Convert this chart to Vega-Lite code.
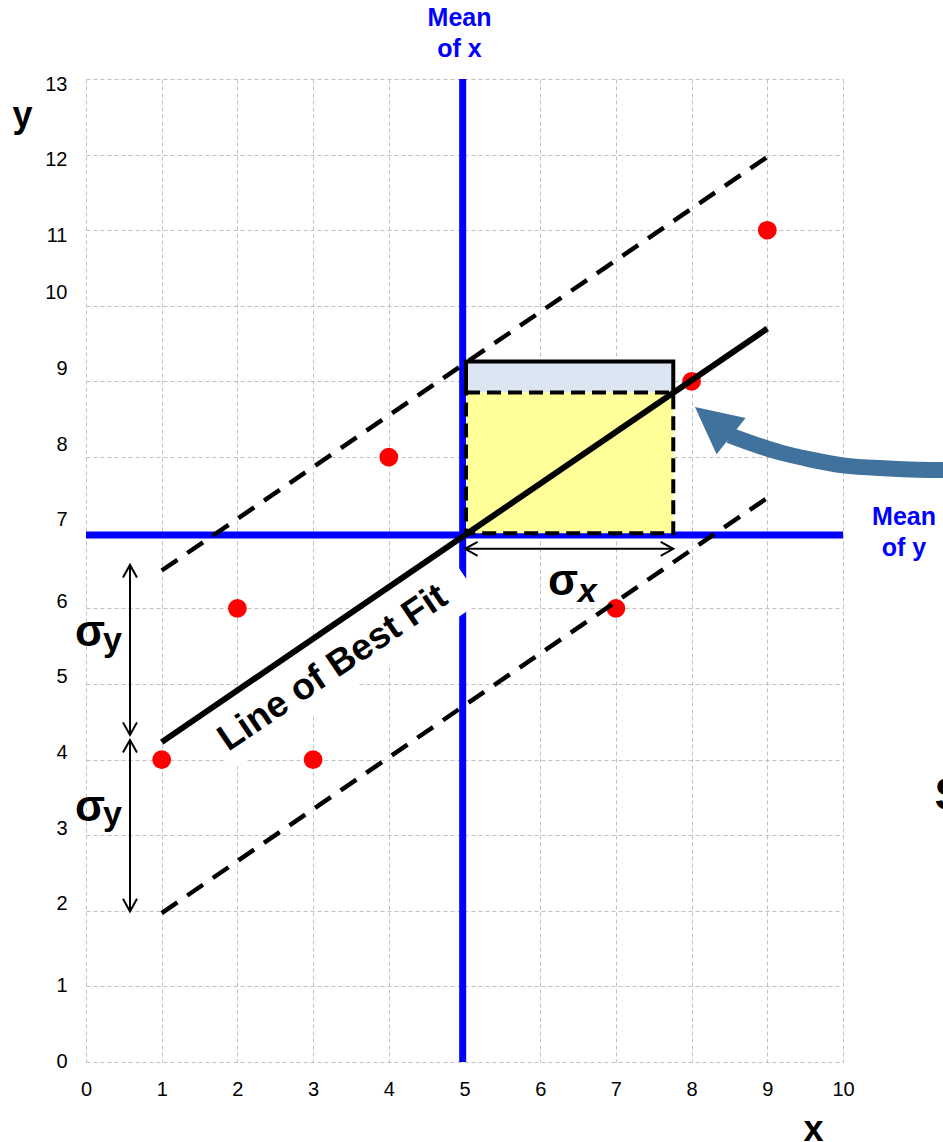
{
  "$schema": "https://vega.github.io/schema/vega-lite/v6.json",
  "width": 757,
  "height": 983,
  "autosize": {"type": "none"},
  "padding": {"left": 86, "top": 79, "right": 100, "bottom": 80},
  "background": "white",
  "config": {"view": {"stroke": null}, "font": "Liberation Sans"},
  "datasets": {
    "means": [
      {"x": 4.976, "x2": 4.976, "y": 0, "y2": 13},
      {"x": 0, "x2": 10, "y": 6.97, "y2": 6.97}
    ],
    "textbox": [{"x": 3.36, "y": 5.31}],
    "yellowRect": [{"x": 5.02, "x2": 7.758, "y": 6.993, "y2": 8.853}],
    "blueRect": [{"x": 5.02, "x2": 7.758, "y": 8.853, "y2": 9.263}],
    "outline": [
      {"o": 1, "x": 5.02, "y": 8.853},
      {"o": 2, "x": 5.02, "y": 9.263},
      {"o": 3, "x": 7.758, "y": 9.263},
      {"o": 4, "x": 7.758, "y": 8.853}
    ],
    "points": [
      {"x": 1, "y": 4},
      {"x": 2, "y": 6},
      {"x": 3, "y": 4},
      {"x": 4, "y": 8},
      {"x": 7, "y": 6},
      {"x": 8, "y": 9},
      {"x": 9, "y": 11}
    ],
    "bands": [
      {"line": "upper", "x": 1, "y": 6.5},
      {"line": "upper", "x": 9, "y": 11.97},
      {"line": "lower", "x": 1, "y": 1.97},
      {"line": "lower", "x": 9, "y": 7.46}
    ],
    "fit": [
      {"x": 1, "y": 4.23},
      {"x": 9, "y": 9.7}
    ],
    "sigmaArrows": [
      {"x": 0.581, "x2": 0.581, "y": 6.574, "y2": 4.325},
      {"x": 0.581, "x2": 0.581, "y": 4.259, "y2": 1.991},
      {"x": 5.007, "x2": 7.758, "y": 6.786, "y2": 6.786}
    ],
    "heads": [
      {"x": 0.581, "y": 6.574, "end": "up"},
      {"x": 0.581, "y": 4.325, "end": "down"},
      {"x": 0.581, "y": 4.259, "end": "up"},
      {"x": 0.581, "y": 1.991, "end": "down"},
      {"x": 5.007, "y": 6.786, "end": "left"},
      {"x": 7.758, "y": 6.786, "end": "right"}
    ],
    "curve": [
      {"x": 8.5, "y": 8.29},
      {"x": 9.168, "y": 8.062},
      {"x": 9.564, "y": 7.97},
      {"x": 10.0, "y": 7.89},
      {"x": 10.6, "y": 7.85},
      {"x": 11.32, "y": 7.83},
      {"x": 11.7, "y": 7.83}
    ],
    "curveHead": [{"x": 8.283, "y": 8.47}],
    "blueLabels": [
      {"text": "Mean", "x": 4.934, "y": 13.81},
      {"text": "of x", "x": 4.934, "y": 13.4},
      {"text": "Mean", "x": 10.806, "y": 7.209},
      {"text": "of y", "x": 10.806, "y": 6.799}
    ],
    "sigmas": [
      {"text": "σ", "x": 6.301, "y": 6.352},
      {"text": "σ", "x": 0.053, "y": 5.668},
      {"text": "σ", "x": 0.053, "y": 3.353}
    ],
    "subY": [
      {"text": "y", "x": 0.35, "y": 5.57},
      {"text": "y", "x": 0.35, "y": 3.27}
    ],
    "subX": [{"text": "x", "x": 6.62, "y": 6.217}],
    "fitLabel": [{"text": "Line of Best Fit", "x": 3.26, "y": 5.21}],
    "edgeLabel": [{"text": "S", "x": 11.208, "y": 3.522}]
  },
  "encoding": {
    "x": {
      "field": "x",
      "type": "quantitative",
      "scale": {"domain": [0, 10], "nice": false, "zero": false},
      "axis": {
        "title": "x",
        "values": [0, 1, 2, 3, 4, 5, 6, 7, 8, 9, 10],
        "grid": true,
        "gridColor": "#c0c0c0",
        "gridDash": [4, 3],
        "gridWidth": 1,
        "domain": false,
        "ticks": false,
        "labelFlush": false,
        "labelOverlap": false,
        "labelFontSize": 20,
        "labelColor": "#000000",
        "labelPadding": 17,
        "titleFontSize": 36,
        "titleFontWeight": "bold",
        "titleColor": "#000000",
        "titleAngle": 0,
        "titleAlign": "center",
        "titleBaseline": "alphabetic",
        "titleX": 727,
        "titleY": 78
      }
    },
    "y": {
      "field": "y",
      "type": "quantitative",
      "scale": {"domain": [0, 13], "nice": false, "zero": false},
      "axis": {
        "title": "y",
        "values": [0, 1, 2, 3, 4, 5, 6, 7, 8, 9, 10, 11, 12, 13],
        "grid": true,
        "gridColor": "#c0c0c0",
        "gridDash": [4, 3],
        "gridWidth": 1,
        "domain": false,
        "ticks": false,
        "labelFlush": false,
        "labelOverlap": false,
        "labelFontSize": 20,
        "labelColor": "#000000",
        "labelPadding": 19,
        "labelOffset": {
          "condition": [
            {"test": "datum.value >= 11", "value": 5},
            {"test": "datum.value >= 7", "value": -13},
            {"test": "datum.value >= 2", "value": -7}
          ],
          "value": -1
        },
        "titleFontSize": 36,
        "titleFontWeight": "bold",
        "titleColor": "#000000",
        "titleAngle": 0,
        "titleAlign": "center",
        "titleBaseline": "alphabetic",
        "titleX": -64,
        "titleY": 47
      }
    }
  },
  "layer": [
    {
      "data": {"name": "means"},
      "mark": {"type": "rule", "color": "#0000ff", "strokeWidth": 7},
      "encoding": {"x2": {"field": "x2"}, "y2": {"field": "y2"}}
    },
    {
      "data": {"name": "textbox"},
      "mark": {
        "type": "point",
        "shape": "M-1,-0.2L1,-0.2L1,0.2L-1,0.2Z",
        "filled": true,
        "color": "#ffffff",
        "opacity": 1,
        "size": 90000,
        "angle": 326
      }
    },
    {
      "data": {"name": "blueRect"},
      "mark": {"type": "rect", "fill": "#dce6f2", "stroke": null},
      "encoding": {"x2": {"field": "x2"}, "y2": {"field": "y2"}}
    },
    {
      "data": {"name": "yellowRect"},
      "mark": {"type": "rect", "fill": "#ffff99", "stroke": "#000000", "strokeWidth": 4, "strokeDash": [14, 7]},
      "encoding": {"x2": {"field": "x2"}, "y2": {"field": "y2"}}
    },
    {
      "data": {"name": "outline"},
      "mark": {"type": "line", "color": "#000000", "strokeWidth": 4, "strokeCap": "square"},
      "encoding": {"order": {"field": "o", "type": "quantitative"}}
    },
    {
      "data": {"name": "points"},
      "mark": {"type": "point", "shape": "circle", "filled": true, "color": "#ff0000", "opacity": 1, "size": 350}
    },
    {
      "data": {"name": "bands"},
      "mark": {"type": "line", "color": "#000000", "strokeWidth": 4.5, "strokeDash": [19, 12]},
      "encoding": {"detail": {"field": "line", "type": "nominal"}}
    },
    {
      "data": {"name": "fit"},
      "mark": {"type": "line", "color": "#000000", "strokeWidth": 6}
    },
    {
      "data": {"name": "sigmaArrows"},
      "mark": {"type": "rule", "color": "#000000", "strokeWidth": 2},
      "encoding": {"x2": {"field": "x2"}, "y2": {"field": "y2"}}
    },
    {
      "data": {"name": "heads"},
      "transform": [{"filter": "datum.end === 'up'"}],
      "mark": {"type": "point", "shape": "M-0.5,0.9L0,0L0.5,0.9", "filled": false, "color": "#000000", "strokeWidth": 2, "opacity": 1, "size": 784, "angle": 0}
    },
    {
      "data": {"name": "heads"},
      "transform": [{"filter": "datum.end === 'down'"}],
      "mark": {"type": "point", "shape": "M-0.5,0.9L0,0L0.5,0.9", "filled": false, "color": "#000000", "strokeWidth": 2, "opacity": 1, "size": 784, "angle": 180}
    },
    {
      "data": {"name": "heads"},
      "transform": [{"filter": "datum.end === 'left'"}],
      "mark": {"type": "point", "shape": "M-0.5,0.9L0,0L0.5,0.9", "filled": false, "color": "#000000", "strokeWidth": 2, "opacity": 1, "size": 784, "angle": 270}
    },
    {
      "data": {"name": "heads"},
      "transform": [{"filter": "datum.end === 'right'"}],
      "mark": {"type": "point", "shape": "M-0.5,0.9L0,0L0.5,0.9", "filled": false, "color": "#000000", "strokeWidth": 2, "opacity": 1, "size": 784, "angle": 90}
    },
    {
      "data": {"name": "curve"},
      "mark": {"type": "line", "color": "#41729d", "strokeWidth": 16, "interpolate": "monotone", "strokeCap": "butt"}
    },
    {
      "data": {"name": "curveHead"},
      "mark": {
        "type": "point",
        "shape": "M0,-1L1,1L-1,1Z",
        "filled": true,
        "color": "#41729d",
        "opacity": 1,
        "size": 2153,
        "angle": 308.8
      }
    },
    {
      "data": {"name": "blueLabels"},
      "mark": {"type": "text", "color": "#0000ff", "fontSize": 25, "fontWeight": "bold", "align": "center", "baseline": "middle"},
      "encoding": {"text": {"field": "text"}}
    },
    {
      "data": {"name": "sigmas"},
      "mark": {"type": "text", "color": "#000000", "fontSize": 44, "fontWeight": "bold", "align": "center", "baseline": "middle"},
      "encoding": {"text": {"field": "text"}}
    },
    {
      "data": {"name": "subY"},
      "mark": {"type": "text", "color": "#000000", "fontSize": 34, "fontWeight": "bold", "align": "center", "baseline": "middle"},
      "encoding": {"text": {"field": "text"}}
    },
    {
      "data": {"name": "subX"},
      "mark": {"type": "text", "color": "#000000", "fontSize": 34, "fontWeight": "bold", "fontStyle": "italic", "align": "center", "baseline": "middle"},
      "encoding": {"text": {"field": "text"}}
    },
    {
      "data": {"name": "fitLabel"},
      "mark": {"type": "text", "color": "#000000", "fontSize": 37, "fontWeight": "bold", "align": "center", "baseline": "middle", "angle": -34},
      "encoding": {"text": {"field": "text"}}
    },
    {
      "data": {"name": "edgeLabel"},
      "mark": {"type": "text", "color": "#000000", "fontSize": 46, "fontWeight": "bold", "align": "left", "baseline": "middle"},
      "encoding": {"text": {"field": "text"}}
    }
  ]
}
